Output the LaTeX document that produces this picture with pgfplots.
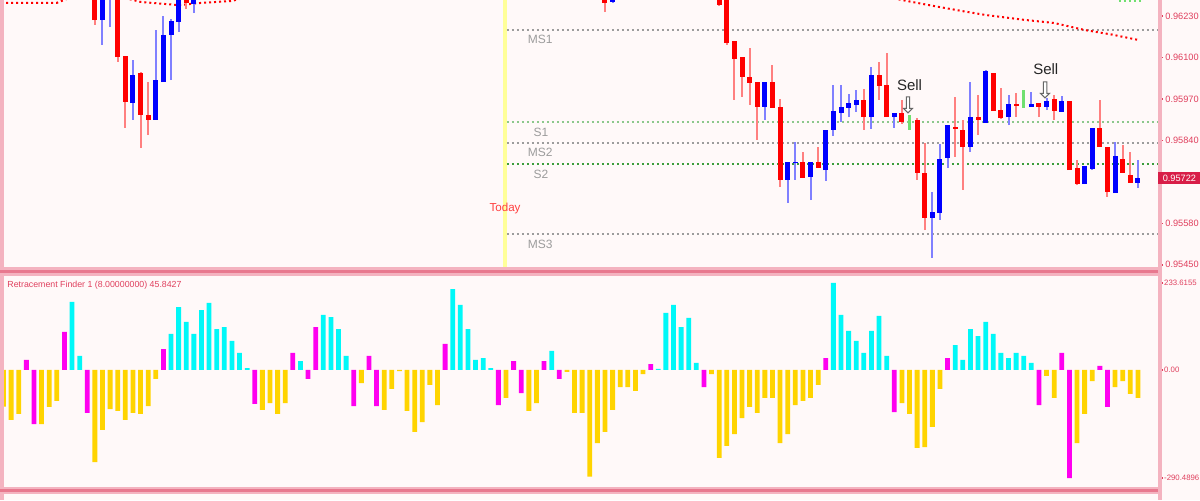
\documentclass[border=0pt]{standalone}
\usepackage{pgfplots}
\pgfplotsset{compat=1.18}
\usepackage{pgfplotstable}
\usetikzlibrary{shapes.arrows}
\usepackage{fontspec}
\setmainfont{Liberation Sans}
\definecolor{bgc}{HTML}{FFF9F9}
\definecolor{pinkb}{HTML}{F4B3C0}
\definecolor{pinkd}{HTML}{E8798F}
\definecolor{labred}{HTML}{E0405E}
\definecolor{gold}{HTML}{FFD400}
\definecolor{cyn}{HTML}{00F8F8}
\definecolor{mag}{HTML}{FF00F0}
\definecolor{candr}{HTML}{FF0000}
\definecolor{candb}{HTML}{0000FF}
\definecolor{wickr}{HTML}{FF8080}
\definecolor{wickb}{HTML}{8080FF}
\definecolor{dojig}{HTML}{70E070}
\definecolor{lvlgray}{HTML}{9C9C9C}
\definecolor{lvlgreenA}{HTML}{8CC88C}
\definecolor{lvlgreenB}{HTML}{3C9E3C}
\definecolor{todayy}{HTML}{FFFF99}
\definecolor{boxred}{HTML}{D81E48}

% candles: index, open, high, low, close
\pgfplotstableread{
i o h l c
12 0.96305 0.96318 0.96202 0.96217
15 0.96311 0.96324 0.96086 0.96101
16 0.96105 0.96105 0.95879 0.95960
18 0.96051 0.96054 0.95816 0.95920
19 0.95920 0.96023 0.95857 0.95904
24 0.96296 0.96305 0.96252 0.96271
79 0.96293 0.96305 0.96242 0.96271
94 0.96299 0.96311 0.96261 0.96264
95 0.96289 0.96299 0.96139 0.96145
96 0.96152 0.96152 0.95967 0.96095
97 0.96101 0.96101 0.95976 0.96039
98 0.96039 0.96130 0.95951 0.96020
99 0.96023 0.96023 0.95841 0.95945
101 0.96023 0.96076 0.95942 0.95942
102 0.95945 0.95970 0.95694 0.95716
105 0.95772 0.95804 0.95722 0.95722
107 0.95772 0.95819 0.95754 0.95754
113 0.95967 0.96001 0.95873 0.95913
115 0.96045 0.96086 0.95967 0.96011
116 0.96014 0.96114 0.95913 0.95913
118 0.95926 0.95967 0.95892 0.95898
120 0.95904 0.95910 0.95716 0.95738
121 0.95738 0.95832 0.95559 0.95597
125 0.95882 0.95976 0.95788 0.95876
126 0.95873 0.95904 0.95685 0.95819
128 0.95913 0.95982 0.95857 0.95904
130 0.96051 0.96051 0.95932 0.95932
131 0.95935 0.96004 0.95907 0.95910
133 0.95954 0.95989 0.95913 0.95948
136 0.95957 0.95957 0.95913 0.95945
138 0.95970 0.95982 0.95904 0.95932
140 0.95964 0.95964 0.95747 0.95747
141 0.95754 0.95779 0.95700 0.95703
144 0.95879 0.95967 0.95819 0.95819
145 0.95819 0.95819 0.95663 0.95678
147 0.95782 0.95826 0.95738 0.95738
148 0.95732 0.95804 0.95707 0.95707
}\bear
\pgfplotstableread{
i o h l c
13 0.96217 0.96311 0.96139 0.96296
14 0.96289 0.96343 0.96195 0.96327
17 0.95957 0.96092 0.95904 0.96045
20 0.95904 0.96186 0.95904 0.96029
21 0.96023 0.96230 0.96023 0.96170
22 0.96170 0.96220 0.96029 0.96214
23 0.96211 0.96311 0.96180 0.96296
25 0.96267 0.96311 0.96239 0.96299
80 0.96274 0.96311 0.96271 0.96299
100 0.95945 0.96023 0.95904 0.96023
103 0.95716 0.95772 0.95644 0.95772
104 0.95769 0.95835 0.95716 0.95772
106 0.95725 0.95772 0.95653 0.95772
108 0.95747 0.95873 0.95713 0.95873
109 0.95873 0.96014 0.95854 0.95932
110 0.95926 0.96014 0.95898 0.95945
111 0.95942 0.95986 0.95913 0.95957
112 0.95951 0.95998 0.95929 0.95967
114 0.95913 0.96070 0.95876 0.96045
117 0.95913 0.95926 0.95879 0.95926
122 0.95597 0.95678 0.95472 0.95616
123 0.95613 0.95829 0.95591 0.95782
124 0.95785 0.95888 0.95754 0.95888
127 0.95819 0.96023 0.95804 0.95913
129 0.95895 0.96061 0.95895 0.96058
132 0.95913 0.95982 0.95888 0.95954
135 0.95945 0.95992 0.95945 0.95954
137 0.95945 0.95973 0.95935 0.95964
139 0.95929 0.95979 0.95929 0.95964
142 0.95703 0.95760 0.95703 0.95760
143 0.95751 0.95879 0.95747 0.95879
146 0.95675 0.95835 0.95675 0.95791
149 0.95707 0.95779 0.95691 0.95722
}\bull
\pgfplotstableread{
i o h l c
119 0.95913 0.95920 0.95873 0.95913
134 0.95954 0.95998 0.95942 0.95954
}\doji

% histogram
\pgfplotstableread{
i v
0 -98.5
1 -134
2 -118
5 -145
6 -99
7 -83
12 -247
13 -161
14 -105
15 -110
16 -134
17 -115
18 -118
19 -97
20 -24
34 -107
35 -89
36 -118
37 -89
47 -35
50 -107
51 -51
52 -3
53 -110
54 -166
55 -140
56 -40
57 -94
66 -75
69 -110
70 -89
74 -5
75 -115
76 -115
77 -286
78 -196
79 -166
80 -107
81 -46
82 -46
83 -56
84 -11
93 -11
94 -236
95 -204
96 -172
97 -129
98 -99
99 -115
100 -75
101 -75
102 -196
103 -172
104 -94
105 -83
106 -75
107 -40
118 -89
119 -118
120 -209
121 -207
122 -153
123 -51
137 -16
138 -75
141 -196
142 -118
143 -30
146 -46
147 -30
148 -64
149 -75
}\hgold
\pgfplotstableread{
i v
9 183
10 38
22 97
23 169
24 129
25 97
26 161
27 180
28 110
29 115
30 78
31 46
32 5
39 24
42 148
43 142
44 110
45 38
59 217
60 175
61 110
62 27
63 32
64 5
72 51
86 3
87 153
88 175
89 115
90 140
91 19
109 233.6
110 148
111 105
112 78
113 46
114 105
115 145
116 38
125 67
126 27
127 110
128 91
129 129
130 97
131 46
132 32
133 46
134 38
135 19
}\hcyan
\pgfplotstableread{
i v
3 27
4 -145
8 102
11 -115
21 56
33 -91
38 46
40 -24
41 115
46 -97
48 38
49 -97
58 70
65 -94
67 24
68 -62
71 24
73 -24
85 16
92 -46
108 32
117 -113
124 32
136 -94
139 46
140 -290.5
144 11
145 -99
}\hmag

\begin{document}
\begin{tikzpicture}
\useasboundingbox (0,0) rectangle (600pt,250pt);
\fill[bgc] (0,0) rectangle (600pt,250pt);

\begin{axis}[
  at={(1pt,116pt)}, anchor=south west, scale only axis,
  width=579pt, height=134pt,
  xmin=-0.2, xmax=151.9, ymin=0.95440, ymax=0.96280,
  axis line style={draw=none},
  xtick=\empty,
  ytick={0.9623,0.961,0.9597,0.9584,0.9558,0.9545},
  yticklabels={0.96230,0.96100,0.95970,0.95840,0.95580,0.95450},
  ytick pos=right, yticklabel pos=right,
  tick align=outside, major tick length=1.5pt,
  ytick style={labred, line width=0.8pt},
  yticklabel style={font=\fontsize{4.6}{5}\selectfont, text=labred, anchor=west, inner sep=0pt, xshift=1pt},
]
% today line
\addplot[todayy, line width=1.6pt] coordinates {(65.87,0.9544) (65.87,0.9628)};
% pivot levels
\addplot[lvlgray, line width=0.9pt, dash pattern=on 0.9pt off 1.6pt] coordinates {(66.1,0.96186) (151.9,0.96186)};
\addplot[lvlgreenA, line width=0.9pt, dash pattern=on 0.9pt off 1.6pt] coordinates {(66.1,0.95898) (151.9,0.95898)};
\addplot[lvlgray, line width=0.9pt, dash pattern=on 0.9pt off 1.6pt] coordinates {(66.1,0.95832) (151.9,0.95832)};
\addplot[lvlgreenB, line width=0.9pt, dash pattern=on 0.9pt off 1.6pt] coordinates {(66.1,0.95766) (151.9,0.95766)};
\addplot[lvlgray, line width=0.9pt, dash pattern=on 0.9pt off 1.6pt] coordinates {(66.1,0.95547) (151.9,0.95547)};
% moving average (red dotted)
\addplot[candr, line width=1pt, dash pattern=on 1pt off 1.5pt] coordinates {
(-0.3,0.96271) (7,0.96271) (9,0.96290) (14,0.96295) (16.5,0.96283) (18,0.96274) (21,0.96268) (23,0.96264) (26,0.96271) (30,0.96277) (32,0.96290)};
\addplot[candr, line width=1pt, dash pattern=on 1pt off 1.5pt] coordinates {
(115,0.96295) (118,0.96280) (122,0.96262) (126,0.96245) (129,0.96233) (134,0.96218) (138,0.96208) (142,0.96186) (145.5,0.96172) (149,0.96155)};
\addplot[dojig, line width=1pt, dash pattern=on 1pt off 1.5pt] coordinates {(146.5,0.96277) (149.5,0.96277)};
% wicks
\addplot[draw=none, mark=none, error bars/.cd, y dir=plus, y explicit, error mark=none,
  error bar style={draw=wickr, line width=1pt}]
  table[x=i, y=l, y error plus expr=\thisrow{h}-\thisrow{l}] {\bear};
\addplot[draw=none, mark=none, error bars/.cd, y dir=plus, y explicit, error mark=none,
  error bar style={draw=wickb, line width=1pt}]
  table[x=i, y=l, y error plus expr=\thisrow{h}-\thisrow{l}] {\bull};
\addplot[draw=none, mark=none, error bars/.cd, y dir=plus, y explicit, error mark=none,
  error bar style={draw=dojig, line width=1.4pt}]
  table[x=i, y=l, y error plus expr=\thisrow{h}-\thisrow{l}] {\doji};
% bodies
\addplot[draw=none, mark=none, error bars/.cd, y dir=plus, y explicit, error mark=none,
  error bar style={draw=candr, line width=2.5pt}]
  table[x=i, y=c, y error plus expr=\thisrow{o}-\thisrow{c}] {\bear};
\addplot[draw=none, mark=none, error bars/.cd, y dir=plus, y explicit, error mark=none,
  error bar style={draw=candb, line width=2.5pt}]
  table[x=i, y=o, y error plus expr=\thisrow{c}-\thisrow{o}] {\bull};
% labels
\node[text=lvlgray, font=\fontsize{6}{6}\selectfont] at (axis cs:70.5,0.96158) {MS1};
\node[text=lvlgray, font=\fontsize{6}{6}\selectfont] at (axis cs:70.6,0.95866) {S1};
\node[text=lvlgray, font=\fontsize{6}{6}\selectfont] at (axis cs:70.5,0.95801) {MS2};
\node[text=lvlgray, font=\fontsize{6}{6}\selectfont] at (axis cs:70.6,0.95735) {S2};
\node[text=lvlgray, font=\fontsize{6}{6}\selectfont] at (axis cs:70.5,0.95515) {MS3};
\node[text=candr!75, font=\fontsize{5.8}{6}\selectfont] at (axis cs:65.87,0.95625) {Today};
\node[text=black!85, font=\fontsize{7.5}{8}\selectfont] at (axis cs:119.0,0.96014) {Sell};
\node[text=black!85, font=\fontsize{7.5}{8}\selectfont] at (axis cs:136.9,0.96064) {Sell};
\node[single arrow, draw=black!60, fill=white, line width=0.5pt, shape border rotate=270,
  minimum height=8pt, minimum width=4.5pt, inner sep=0.5pt, single arrow head extend=1.2pt]
  at (axis cs:118.8,0.95954) {};
\node[single arrow, draw=black!60, fill=white, line width=0.5pt, shape border rotate=270,
  minimum height=8pt, minimum width=4.5pt, inner sep=0.5pt, single arrow head extend=1.2pt]
  at (axis cs:136.8,0.96001) {};
\coordinate (pbox) at (axis cs:151.9,0.95722);
\end{axis}

\begin{axis}[
  at={(1pt,6pt)}, anchor=south west, scale only axis,
  width=579pt, height=106pt,
  xmin=-0.2, xmax=151.9, ymin=-316.8, ymax=252.3,
  axis line style={draw=none},
  xtick=\empty,
  ytick={233.6155,0,-290.4896},
  yticklabels={233.6155,0.00,-290.4896},
  ytick pos=right, yticklabel pos=right,
  tick align=outside, major tick length=1.5pt,
  ytick style={labred, line width=0.8pt},
  yticklabel style={font=\fontsize{3.9}{4.5}\selectfont, text=labred, anchor=west, inner sep=0pt, xshift=0.4pt},
]
\addplot[ybar, bar width=2.4pt, bar shift=0pt, fill=gold, draw=none] table[x=i, y=v] {\hgold};
\addplot[ybar, bar width=2.4pt, bar shift=0pt, fill=cyn, draw=none] table[x=i, y=v] {\hcyan};
\addplot[ybar, bar width=2.4pt, bar shift=0pt, fill=mag, draw=none] table[x=i, y=v] {\hmag};
\coordinate (ttl) at (rel axis cs:0,1);
\end{axis}

\node[anchor=west, text=labred, font=\fontsize{4.4}{5}\selectfont, inner sep=0pt] at ([xshift=2.5pt, yshift=-4.5pt]ttl) {Retracement Finder 1 (8.00000000) 45.8427};

% frames
\fill[pinkb] (0,0) rectangle (2pt,250pt);
\fill[pinkb] (0,112pt) rectangle (580pt,116.5pt);
\fill[pinkd] (0,113.4pt) rectangle (580pt,115pt);
\fill[pinkb] (0,3pt) rectangle (580pt,6.5pt);
\fill[pinkd] (0,4.2pt) rectangle (580pt,5.6pt);
\fill[pinkb] (579pt,0) rectangle (581pt,250pt);
\node[fill=boxred, text=white, anchor=west, inner sep=0.6pt, minimum height=6.4pt, minimum width=21pt,
  font=\fontsize{4.6}{5}\selectfont] at ([xshift=-1pt]pbox) {0.95722};
\end{tikzpicture}
\end{document}
